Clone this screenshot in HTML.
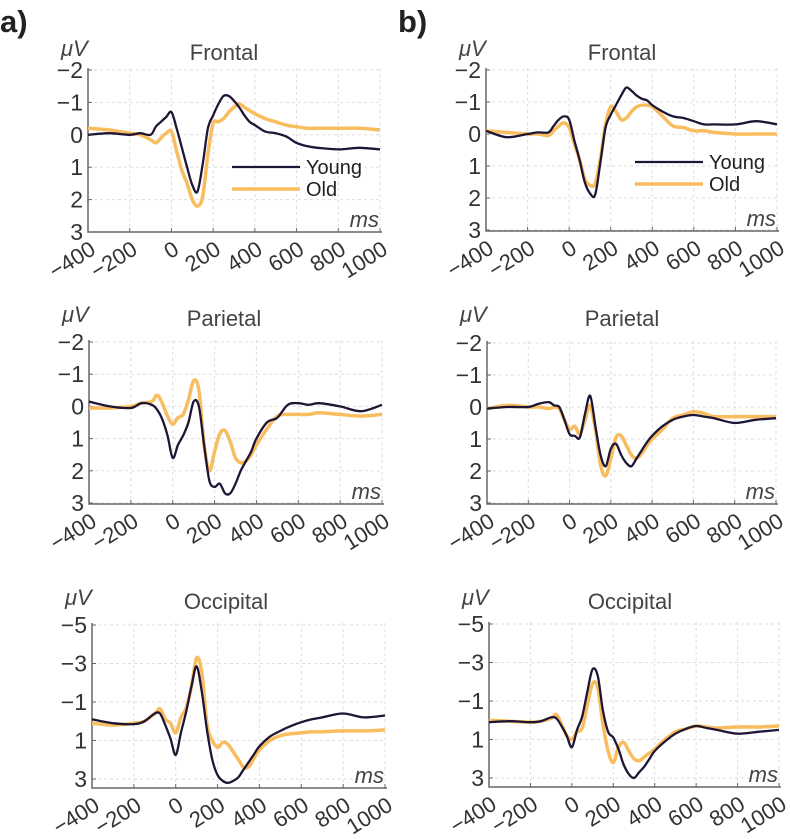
<!DOCTYPE html>
<html><head><meta charset="utf-8">
<style>
html,body{margin:0;padding:0;background:#fff;}
svg{display:block;font-family:"Liberation Sans",sans-serif;}
</style></head>
<body>
<svg id="fig" width="790" height="839" viewBox="0 0 790 839">
<text x="0" y="32" font-size="31" font-weight="bold" fill="#222">a)</text>
<text x="398" y="32" font-size="31" font-weight="bold" fill="#222">b)</text>
</svg>
<script>
const times = [-400,-300,-200,-150,-100,-75,-50,-25,0,25,50,75,100,125,150,175,200,225,250,275,300,325,350,375,400,450,500,550,600,650,700,800,900,1000];
const xTicks = [-400,-200,0,200,400,600,800,1000];
const yTicksStd = [-2,-1,0,1,2,3];
const yTicksOcc = [-5,-3,-1,1,3];

const aFrontalYoung = [0,-0.05,0,-0.05,0,-0.25,-0.4,-0.55,-0.7,-0.2,0.4,1.0,1.55,1.75,0.9,-0.2,-0.6,-0.95,-1.2,-1.2,-1.05,-0.85,-0.6,-0.4,-0.3,-0.1,-0.05,0.05,0.25,0.35,0.4,0.45,0.4,0.45];
const aFrontalOld = [-0.2,-0.15,-0.05,0,0.15,0.25,0.1,-0.05,-0.1,0.5,1.1,1.5,2.0,2.2,1.9,0.6,-0.35,-0.4,-0.5,-0.7,-0.85,-0.95,-0.85,-0.75,-0.65,-0.5,-0.4,-0.3,-0.25,-0.2,-0.2,-0.2,-0.2,-0.15];
const bFrontalYoung = [-0.1,0.1,0,-0.05,-0.05,-0.25,-0.45,-0.55,-0.45,0.2,0.8,1.5,1.85,1.9,0.9,-0.2,-0.6,-0.9,-1.2,-1.45,-1.35,-1.2,-1.1,-1.05,-0.9,-0.7,-0.55,-0.5,-0.4,-0.3,-0.3,-0.3,-0.4,-0.3];
const bFrontalOld = [-0.1,-0.05,0,0,0.05,-0.1,-0.25,-0.35,-0.2,0.3,0.8,1.4,1.6,1.55,0.8,-0.3,-0.85,-0.7,-0.45,-0.5,-0.7,-0.85,-0.9,-0.9,-0.85,-0.55,-0.25,-0.2,-0.1,-0.1,-0.05,0,0,0];
const aParietalYoung = [-0.15,0,0.05,-0.1,-0.05,0.1,0.4,0.9,1.6,1.2,0.9,0.5,-0.15,0.0,1.2,2.3,2.5,2.4,2.7,2.7,2.4,2.0,1.7,1.4,1.0,0.5,0.35,-0.05,-0.1,-0.05,-0.1,0,0.15,-0.05];
const aParietalOld = [0.05,0.05,0,-0.1,-0.15,-0.35,-0.1,0.3,0.55,0.35,0.25,-0.2,-0.8,-0.5,1.2,2.0,1.4,0.85,0.75,1.1,1.6,1.75,1.7,1.5,1.2,0.7,0.3,0.25,0.25,0.25,0.2,0.25,0.3,0.25];
const bParietalYoung = [0.05,0,0,-0.1,-0.15,-0.05,0,0.4,0.85,0.9,0.95,0.2,-0.35,0.6,1.5,1.85,1.3,1.15,1.5,1.75,1.85,1.6,1.35,1.1,0.9,0.6,0.4,0.3,0.25,0.3,0.35,0.5,0.4,0.35];
const bParietalOld = [0.05,-0.05,0,0,0.05,0,0.05,0.4,0.7,0.6,0.85,0.4,-0.05,0.7,1.8,2.15,1.6,0.95,0.9,1.2,1.5,1.6,1.45,1.2,1.0,0.7,0.35,0.25,0.15,0.2,0.3,0.3,0.3,0.3];
const aOccipitalYoung = [-0.1,0.1,0.15,0,-0.4,-0.4,0.2,0.9,1.75,0.6,-0.5,-1.8,-2.85,-1.5,0.5,2.0,2.8,3.1,3.2,3.1,2.9,2.5,2.1,1.7,1.3,0.8,0.5,0.25,0.05,-0.1,-0.2,-0.4,-0.2,-0.3];
const aOccipitalOld = [0.1,0.2,0.1,0,-0.4,-0.65,-0.1,0.1,0.6,-0.2,-0.7,-1.8,-3.3,-2.5,0.2,1.0,1.35,1.1,1.2,1.6,2.0,2.4,2.35,1.9,1.5,1.0,0.75,0.65,0.6,0.55,0.55,0.5,0.5,0.45];
const bOccipitalYoung = [0.1,0.05,0.1,0.05,-0.15,-0.1,0.3,0.8,1.4,0.5,-0.2,-1.5,-2.65,-2.3,-0.5,0.6,0.9,1.5,2.3,2.8,3.0,2.7,2.4,2.0,1.6,1.1,0.7,0.45,0.3,0.4,0.5,0.7,0.6,0.5];
const bOccipitalOld = [0,0.05,0.1,0.05,-0.1,-0.3,0.2,0.8,1.0,0.6,0.4,-0.8,-1.9,-1.7,0.2,1.6,2.2,1.4,1.15,1.6,2.0,2.1,1.9,1.7,1.5,1.0,0.6,0.45,0.3,0.35,0.4,0.35,0.35,0.3];

const panels = [
 {id:'a-frontal',title:'Frontal',L:88,R:380,yTop:70,yBot:232,ymin:-2,ymax:3,axB:232,ticks:yTicksStd,young:aFrontalYoung,old:aFrontalOld,tx:224,ty:60,legend:{x:232,y:167}},
 {id:'a-parietal',title:'Parietal',L:89,R:382,yTop:342,yBot:503,ymin:-2,ymax:3,axB:504,ticks:yTicksStd,young:aParietalYoung,old:aParietalOld,tx:224,ty:326},
 {id:'a-occipital',title:'Occipital',L:92,R:385,yTop:625,yBot:779,ymin:-5,ymax:3,axB:788,ticks:yTicksOcc,young:aOccipitalYoung,old:aOccipitalOld,tx:226,ty:609},
 {id:'b-frontal',title:'Frontal',L:486,R:777,yTop:70,yBot:230,ymin:-2,ymax:3,axB:231,ticks:yTicksStd,young:bFrontalYoung,old:bFrontalOld,tx:622,ty:60,legend:{x:635,y:162}},
 {id:'b-parietal',title:'Parietal',L:487,R:776,yTop:343,yBot:503,ymin:-2,ymax:3,axB:504,ticks:yTicksStd,young:bParietalYoung,old:bParietalOld,tx:622,ty:326},
 {id:'b-occipital',title:'Occipital',L:489,R:779,yTop:624,yBot:778,ymin:-5,ymax:3,axB:787,ticks:yTicksOcc,young:bOccipitalYoung,old:bOccipitalOld,tx:630,ty:609}
];
const NS='http://www.w3.org/2000/svg';
const svg=document.getElementById('fig');
function mk(tag,attrs,parent){const e=document.createElementNS(NS,tag);for(const k in attrs)e.setAttribute(k,attrs[k]);(parent||svg).appendChild(e);return e;}
function smoothPath(pts){
 let d='M'+pts[0][0].toFixed(1)+','+pts[0][1].toFixed(1);
 for(let i=0;i<pts.length-1;i++){
  const p0=pts[Math.max(0,i-1)],p1=pts[i],p2=pts[i+1],p3=pts[Math.min(pts.length-1,i+2)];
  const c1=[p1[0]+(p2[0]-p0[0])/6,p1[1]+(p2[1]-p0[1])/6];
  const c2=[p2[0]-(p3[0]-p1[0])/6,p2[1]-(p3[1]-p1[1])/6];
  d+=' C'+c1[0].toFixed(1)+','+c1[1].toFixed(1)+' '+c2[0].toFixed(1)+','+c2[1].toFixed(1)+' '+p2[0].toFixed(1)+','+p2[1].toFixed(1);
 }
 return d;
}
panels.forEach(p=>{
 const g=mk('g',{});
 
 
 const xs=t=>p.L+(t+400)/1400*(p.R-p.L);
 const ys=v=>p.yTop+(v-p.ymin)/(p.ymax-p.ymin)*(p.yBot-p.yTop);
 xTicks.forEach(t=>{if(t===-400)return;
  const l=mk('line',{x1:xs(t),x2:xs(t),y1:p.yTop-2,y2:p.axB,stroke:'#ddd','stroke-width':1,'stroke-dasharray':'3,3'},g);
  
  
 });
 p.ticks.forEach(v=>{
  const l=mk('line',{x1:p.L,x2:p.R,y1:ys(v),y2:ys(v),stroke:'#ddd','stroke-width':1,'stroke-dasharray':'3,3'},g);
  
  
  const tk=mk('line',{x1:p.L,x2:p.L+4,y1:ys(v),y2:ys(v),stroke:'#666','stroke-width':1},g);
  
  
  const tx=mk('text',{x:p.L-5,y:ys(v)+8,'font-size':23,'text-anchor':'end',fill:'#333'},g);
  
  
  tx.textContent=(v<0?'\u2212'+Math.abs(v):String(v));
 });
 xTicks.forEach(t=>{
  const tk=mk('line',{x1:xs(t),x2:xs(t),y1:p.axB,y2:p.axB-4,stroke:'#666','stroke-width':1},g);
  
  
  const x=xs(t)+9,y=p.axB+21;
  const tx=mk('text',{x:x,y:y,'font-size':22,'text-anchor':'end',fill:'#333',transform:'rotate(-32 '+x+' '+y+')'},g);
  
  
  tx.textContent=(t<0?'\u2212'+Math.abs(t):String(t));
 });
 const ax=mk('path',{d:'M'+p.L+','+(p.yTop-2)+' L'+p.L+','+p.axB+' L'+(p.R+2)+','+p.axB,fill:'none',stroke:'#666','stroke-width':1.5},g);
 
 
 const ti=mk('text',{x:p.tx,y:p.ty,'font-size':22,'text-anchor':'middle',fill:'#444'},g);
 
 
 ti.textContent=p.title;
 const uv=mk('text',{x:p.L-27,y:p.ty-4,'font-size':22,'font-style':'italic',fill:'#444'},g);
 
 
 uv.textContent='\u03BCV';
 const ms=mk('text',{x:p.R-1,y:p.axB-5,'font-size':22,'font-style':'italic','text-anchor':'end',fill:'#444'},g);
 
 
 ms.textContent='ms';
 const old=mk('path',{d:smoothPath(times.map((t,i)=>[xs(t),ys(p.old[i])])),fill:'none',stroke:'#f8bd5e','stroke-width':3.5,'stroke-linejoin':'round'},g);
 
 
 const yg=mk('path',{d:smoothPath(times.map((t,i)=>[xs(t),ys(p.young[i])])),fill:'none',stroke:'#1f1535','stroke-width':2.3,'stroke-linejoin':'round'},g);
 
 
 if(p.legend){
  const lg=mk('g',{},g);
  
  
  const l1=mk('line',{x1:p.legend.x,x2:p.legend.x+68,y1:p.legend.y,y2:p.legend.y,stroke:'#1f1535','stroke-width':2.3},lg);
  
  
  const t1=mk('text',{x:p.legend.x+74,y:p.legend.y+7,'font-size':20,fill:'#222'},lg);
  
  
  t1.textContent='Young';
  const l2=mk('line',{x1:p.legend.x,x2:p.legend.x+68,y1:p.legend.y+22,y2:p.legend.y+22,stroke:'#f8bd5e','stroke-width':3.5},lg);
  
  
  const t2=mk('text',{x:p.legend.x+74,y:p.legend.y+29,'font-size':20,fill:'#222'},lg);
  
  
  t2.textContent='Old';
 }
});
</script>
</body></html>
